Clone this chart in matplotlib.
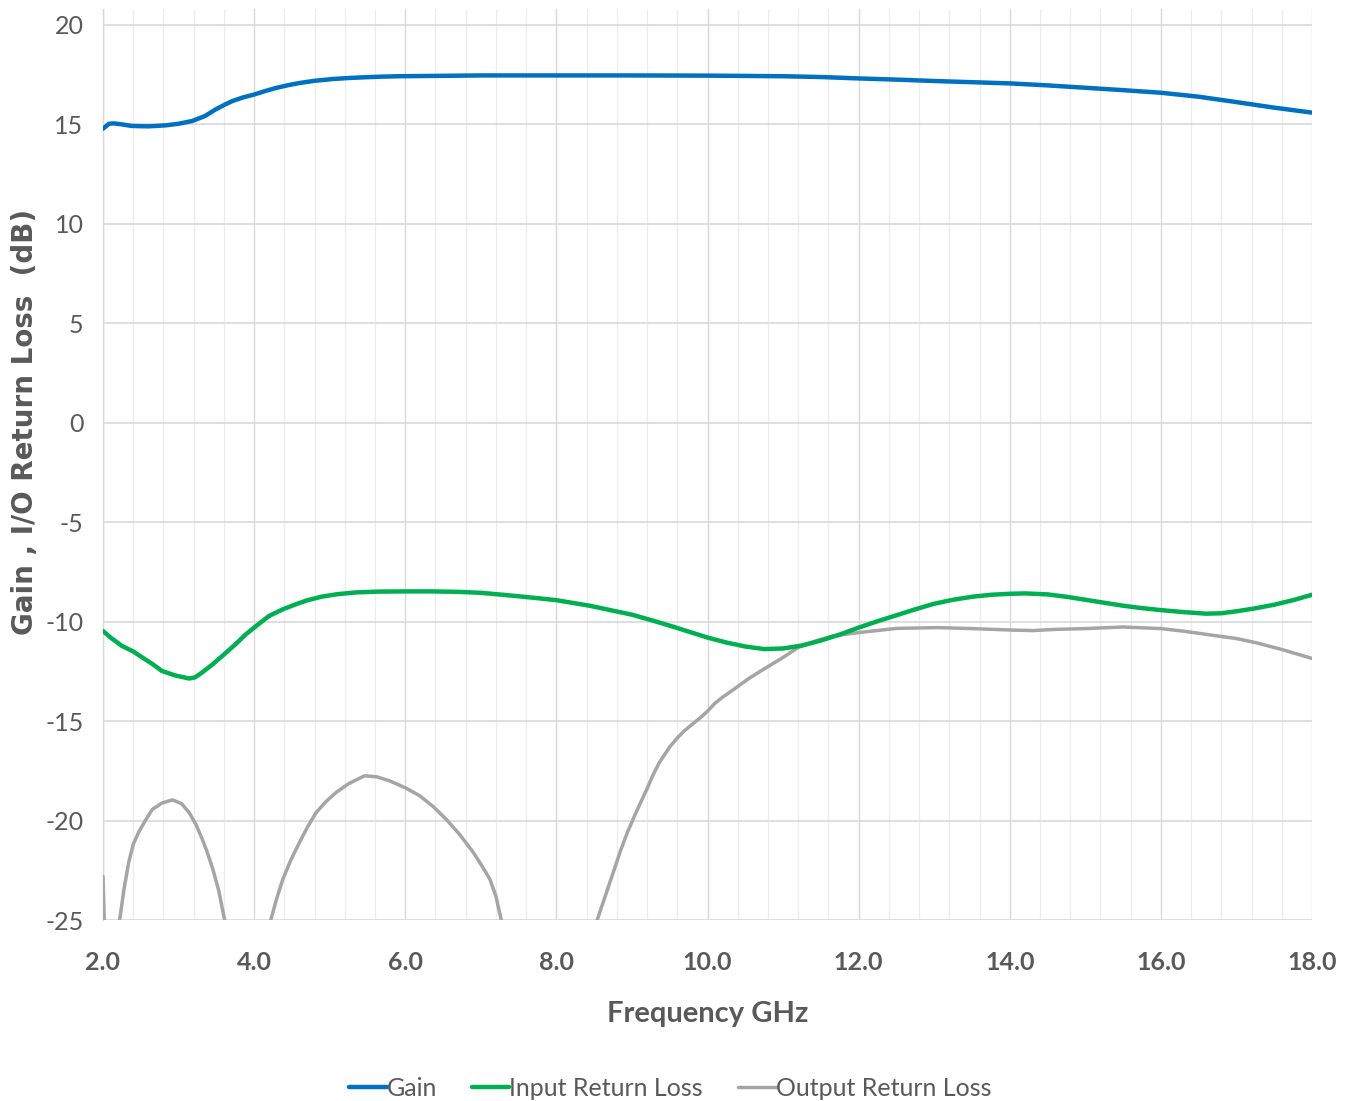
import matplotlib
matplotlib.use("Agg")
import matplotlib.pyplot as plt
from matplotlib.ticker import MultipleLocator

# ---------------- data ----------------
gain_f = [2.0, 2.08, 2.14, 2.25, 2.38, 2.6, 2.83, 3.0, 3.18, 3.35, 3.49, 3.6, 3.71,
          3.85, 4.0, 4.15, 4.29, 4.45, 4.6, 4.8, 5.04, 5.25, 5.48, 5.7, 5.92, 6.5,
          7.0, 8.0, 9.0, 10.0, 11.0, 11.5, 12.0, 12.5, 13.0, 13.5, 14.0, 14.5, 15.0,
          15.5, 16.0, 16.5, 17.0, 17.5, 18.0]
gain_v = [14.78, 15.03, 15.05, 15.0, 14.92, 14.9, 14.95, 15.03, 15.17, 15.42, 15.75,
          15.97, 16.17, 16.35, 16.5, 16.68, 16.83, 16.97, 17.08, 17.19, 17.28, 17.33,
          17.37, 17.4, 17.42, 17.44, 17.46, 17.46, 17.46, 17.45, 17.42, 17.38, 17.31,
          17.25, 17.18, 17.12, 17.06, 16.96, 16.84, 16.72, 16.59, 16.39, 16.12, 15.84,
          15.59]

irl_f = [2.0, 2.1, 2.25, 2.4, 2.52, 2.65, 2.78, 2.95, 3.14, 3.22, 3.31, 3.45, 3.58,
         3.75, 3.89, 4.05, 4.2, 4.38, 4.55, 4.7, 4.9, 5.1, 5.35, 5.65, 6.0, 6.34,
         6.68, 7.0, 7.35, 7.7, 8.0, 8.44, 8.75, 9.0, 9.25, 9.5, 9.75, 10.0, 10.25,
         10.5, 10.75, 11.0, 11.25, 11.5, 11.75, 12.0, 12.25, 12.5, 12.75, 13.0,
         13.25, 13.5, 13.75, 14.0, 14.2, 14.5, 14.75, 15.0, 15.25, 15.5, 15.75,
         16.0, 16.3, 16.6, 16.8, 17.0, 17.25, 17.5, 17.75, 18.0]
irl_v = [-10.47, -10.8, -11.22, -11.5, -11.8, -12.12, -12.48, -12.7, -12.86, -12.8,
         -12.56, -12.15, -11.72, -11.15, -10.64, -10.15, -9.71, -9.38, -9.13, -8.93,
         -8.74, -8.62, -8.53, -8.49, -8.48, -8.48, -8.5, -8.55, -8.67, -8.8, -8.92,
         -9.2, -9.45, -9.65, -9.92, -10.2, -10.5, -10.8, -11.05, -11.25, -11.38,
         -11.35, -11.2, -10.95, -10.65, -10.3, -9.98, -9.68, -9.38, -9.1, -8.9,
         -8.75, -8.65, -8.6, -8.58, -8.63, -8.75, -8.9, -9.05, -9.2, -9.32, -9.42,
         -9.52, -9.6, -9.58, -9.48, -9.33, -9.15, -8.92, -8.65]

orl_f = [2.0, 2.02, 2.06, 2.12, 2.18, 2.22, 2.28, 2.34, 2.4, 2.47, 2.56, 2.65, 2.78,
         2.92, 3.04, 3.14, 3.23, 3.31, 3.38, 3.45, 3.53, 3.61, 3.75, 3.9, 4.05,
         4.22, 4.3, 4.38, 4.49, 4.6, 4.71, 4.82, 4.95, 5.08, 5.25, 5.46, 5.62, 5.79,
         6.0, 6.19, 6.37, 6.54, 6.72, 6.9, 7.01, 7.12, 7.2, 7.27, 7.5, 7.9, 8.3,
         8.54, 8.62, 8.7, 8.78, 8.85, 8.94, 9.03, 9.12, 9.2, 9.28, 9.36, 9.43, 9.5,
         9.6, 9.69, 9.77, 9.85, 9.93, 10.0, 10.1, 10.2, 10.35, 10.55, 10.74, 11.0,
         11.2, 11.45, 11.66, 12.0, 12.5, 13.05, 13.5, 14.0, 14.3, 14.6, 15.0, 15.5,
         16.0, 16.3, 16.6, 17.0, 17.26, 17.6, 18.0]
orl_v = [-22.8, -25.5, -29.0, -31.0, -27.5, -25.0, -23.4, -22.1, -21.2, -20.6, -20.0,
         -19.45, -19.12, -18.96, -19.15, -19.6, -20.2, -20.9, -21.6, -22.4, -23.5,
         -25.0, -28.0, -32.0, -28.0, -25.0, -23.9, -22.95, -21.95, -21.1, -20.3,
         -19.6, -19.05, -18.6, -18.15, -17.75, -17.8, -18.0, -18.35, -18.75, -19.3,
         -19.93, -20.7, -21.6, -22.25, -22.95, -23.8, -25.0, -29.0, -33.0, -29.0,
         -25.0, -24.1, -23.2, -22.3, -21.5, -20.6, -19.8, -19.05, -18.4, -17.7,
         -17.1, -16.7, -16.3, -15.85, -15.5, -15.25, -15.0, -14.75, -14.5, -14.1,
         -13.8, -13.4, -12.85, -12.4, -11.8, -11.3, -10.95, -10.72, -10.55, -10.34,
         -10.3, -10.35, -10.42, -10.45, -10.39, -10.35, -10.27, -10.35, -10.48,
         -10.64, -10.85, -11.06, -11.4, -11.85]

series_names = ["Gain", "Input Return Loss", "Output Return Loss"]
series_colors = ["#0070C0", "#00B050", "#A5A5A5"]

x_ticks = [2.0, 4.0, 6.0, 8.0, 10.0, 12.0, 14.0, 16.0, 18.0]
y_ticks = [-25, -20, -15, -10, -5, 0, 5, 10, 15, 20]

# ---------------- figure ----------------
NARROW = ["Lato", "DejaVu Sans"]
TXT = "#595959"

fig = plt.figure(figsize=(13.51, 11.01), dpi=100)
ax = fig.add_axes([103 / 1351, 1 - 920 / 1101, (1312 - 103) / 1351, (920 - 9) / 1101])

ax.plot(gain_f, gain_v, color=series_colors[0], lw=3.2, label=series_names[0],
        solid_capstyle="round", solid_joinstyle="round", zorder=4)
ax.plot(irl_f, irl_v, color=series_colors[1], lw=3.2, label=series_names[1],
        solid_capstyle="round", solid_joinstyle="round", zorder=4)
ax.plot(orl_f, orl_v, color=series_colors[2], lw=2.5, label=series_names[2],
        solid_capstyle="round", solid_joinstyle="round", zorder=3)

ax.set_xlim(2.0, 18.0)
ax.set_ylim(-25, 20.8)
ax.set_xticks(x_ticks)
ax.set_xticklabels([f"{t:.1f}" for t in x_ticks])
ax.set_yticks(y_ticks)
ax.set_yticklabels([f"{t}" for t in y_ticks])
ax.xaxis.set_minor_locator(MultipleLocator(0.4))

ax.grid(which="major", axis="x", color="#D9D9D9", lw=1.0, zorder=0)
ax.grid(which="minor", axis="x", color="#EDEDED", lw=1.0, zorder=0)
ax.grid(which="major", axis="y", color="#D9D9D9", lw=1.2, zorder=0)
ax.set_axisbelow(True)

for s in ["top", "right", "bottom"]:
    ax.spines[s].set_visible(False)
ax.spines["left"].set_color("#D9D9D9")
ax.spines["left"].set_linewidth(1.0)

ax.tick_params(axis="both", which="both", length=0)
ax.tick_params(axis="y", pad=14)
ax.tick_params(axis="x", pad=22)
for lab in ax.get_yticklabels():
    lab.set_family(NARROW)
    lab.set_fontsize(18)
    lab.set_color(TXT)
for lab in ax.get_xticklabels():
    lab.set_family(NARROW)
    lab.set_fontsize(18)
    lab.set_fontweight("bold")
    lab.set_color(TXT)

ax.set_xlabel("Frequency GHz", family=NARROW, fontsize=21, fontweight="bold",
              color=TXT, labelpad=20)
ax.set_ylabel("Gain , I/O Return Loss  (dB)", family=["DejaVu Sans"], fontsize=20,
              fontweight="bold", color=TXT)
ax.yaxis.set_label_coords(-0.053, 0.547)

leg = fig.legend(loc="center", bbox_to_anchor=(670 / 1351, 1 - 1088 / 1101), ncol=3,
                 frameon=False, handlelength=1.5, handletextpad=0.0, columnspacing=1.4,
                 prop={"family": NARROW, "size": 18})
for t in leg.get_texts():
    t.set_color(TXT)

fig.savefig("out.png", dpi=100, facecolor="white")
